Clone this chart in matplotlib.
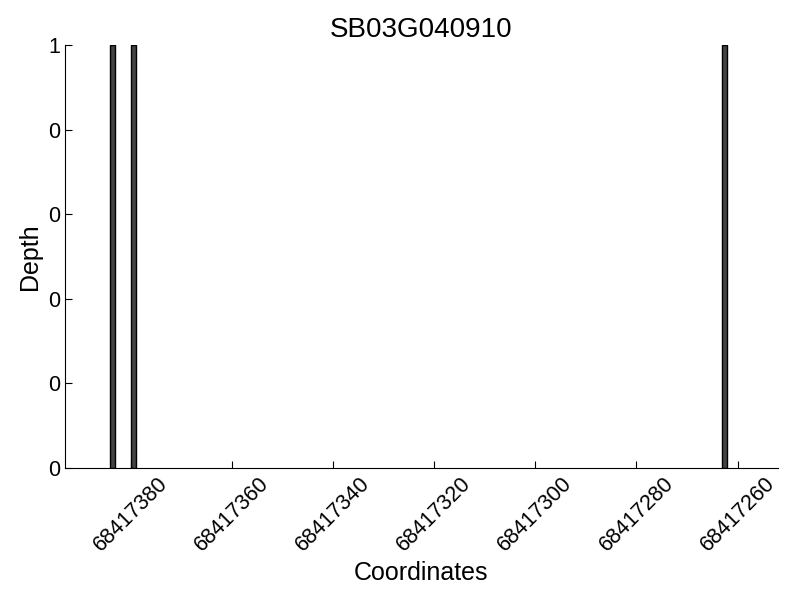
import matplotlib
matplotlib.use('Agg')
import matplotlib.pyplot as plt
from matplotlib.ticker import FormatStrFormatter

plt.rcParams['font.family'] = ['Liberation Sans', 'DejaVu Sans']

gene = 'SB03G040910'
positions = [68417383, 68417379, 68417262]
depths = [1, 1, 1]
xticks = [68417380, 68417360, 68417340, 68417320, 68417300, 68417280, 68417260]

fig = plt.figure(figsize=(8, 6), dpi=100)
ax = fig.add_axes([0.081, 0.22, 0.8915, 0.705])
ax.bar(positions, depths, width=1, align='edge', color='#444444',
       edgecolor='black', linewidth=1)

ax.set_xlim(max(positions) + 10, min(positions) - 10)
ax.set_ylim(0, 1)
ax.set_xticks(xticks)
ax.set_xticklabels([str(t) for t in xticks], rotation=45, ha='center')
ax.set_yticks([0, 0.2, 0.4, 0.6, 0.8, 1.0])
ax.yaxis.set_major_formatter(FormatStrFormatter('%d'))
ax.tick_params(direction='in', labelsize=15.5, length=5)

ax.spines['top'].set_visible(False)
ax.spines['right'].set_visible(False)

ax.set_xlabel('Coordinates', fontsize=18)
ax.set_ylabel('Depth', fontsize=18)
ax.set_title(gene, fontsize=20)

fig.savefig('out.png', dpi=100)
plt.close(fig)
